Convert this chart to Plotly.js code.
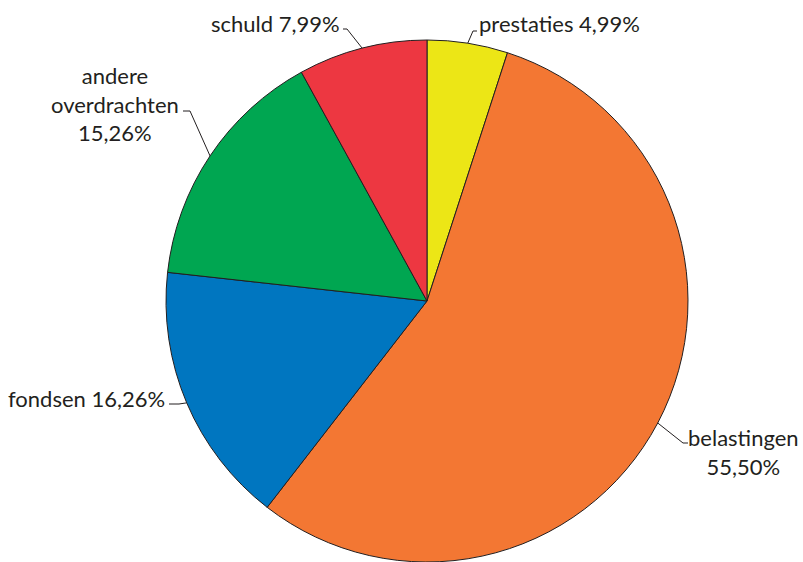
<!DOCTYPE html>
<html>
<head>
<meta charset="utf-8">
<script src="https://cdn.plot.ly/plotly-3.0.1.min.js"></script>
<style>html,body{margin:0;padding:0;background:#fff;}#chart{width:803px;height:562px;}</style>
</head>
<body>
<div id="chart"></div>
<script>
// ---- data ----
const categories = ["prestaties", "belastingen", "fondsen", "andere overdrachten", "schuld"];
const values = [4.99, 55.50, 16.26, 15.26, 7.99];
const labelTexts = ["prestaties 4,99%", "belastingen<br>55,50%", "fondsen 16,26%", "andere<br>overdrachten<br>15,26%", "schuld 7,99%"];
const colors = ["#ECE616", "#F37733", "#0076C0", "#00A651", "#ED3741"];

// ---- layout config (pixels) ----
const W = 803, H = 562;
const cx = 427, cy = 301, R = 261;
// elbow point, end of horizontal tick, text anchor per label
const labelLayout = [
  {elbow:[473,31], end:[477,31], tx:477, ty:23, xa:"left", al:"left"},
  {elbow:[683,443], end:[688,443], tx:686, ty:452, xa:"left", al:"center"},
  {elbow:[179,404], end:[169,404], tx:167, ty:398, xa:"right", al:"left"},
  {elbow:[190,111], end:[183,111], tx:115, ty:104, xa:"center", al:"center"},
  {elbow:[347,29], end:[343,29], tx:342, ty:23, xa:"right", al:"left"}
];

const total = values.reduce((a,b)=>a+b,0);
const px = x => x / W, py = y => 1 - y / H;

const shapes = [], annotations = [];
let cum = 0;
values.forEach((v, i) => {
  const mid = (cum + v/2) / total * 2 * Math.PI; cum += v;
  const ex = cx + R * Math.sin(mid), ey = cy - R * Math.cos(mid);
  const L = labelLayout[i];
  shapes.push({type:"path", xref:"paper", yref:"paper",
    path:`M ${px(ex)} ${py(ey)} L ${px(L.elbow[0])} ${py(L.elbow[1])} L ${px(L.end[0])} ${py(L.end[1])}`,
    line:{color:"#231F20", width:1}});
  annotations.push({xref:"paper", yref:"paper", x:px(L.tx), y:py(L.ty), xanchor:L.xa, yanchor:"middle",
    align:L.al, text:labelTexts[i], showarrow:false,
    font:{family:"Lato, 'Open Sans', sans-serif", size:22, color:"#231F20"}});
});

const trace = {
  type:"pie", labels:categories, values:values, sort:false, direction:"clockwise", rotation:0,
  marker:{colors:colors, line:{color:"#231F20", width:1}},
  textinfo:"none", hoverinfo:"label+percent",
  domain:{x:[(cx-R)/W, (cx+R)/W], y:[1-(cy+R)/H, 1-(cy-R)/H]}
};

Plotly.newPlot("chart", [trace], {
  width:W, height:H, margin:{l:0,r:0,t:0,b:0}, showlegend:false,
  paper_bgcolor:"#fff", shapes:shapes, annotations:annotations
}, {displayModeBar:false, staticPlot:true});
</script>
</body>
</html>
